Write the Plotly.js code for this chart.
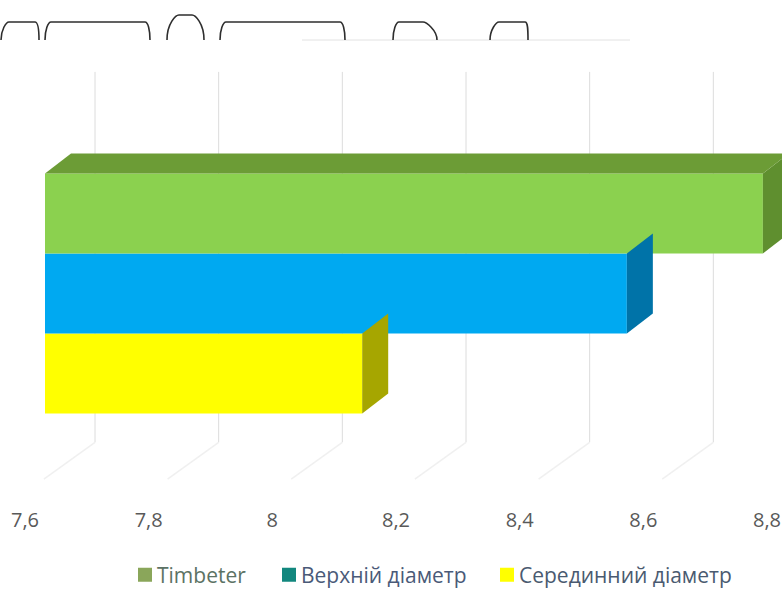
<!DOCTYPE html>
<html>
<head>
<meta charset="utf-8">
<script src="https://cdn.plot.ly/plotly-3.0.1.min.js"></script>
<style>html,body{margin:0;padding:0;background:#fff}#chart{width:782px;height:590px}</style>
</head>
<body>
<div id="chart"></div>
<script>
// Diameter comparison, drawn as a bar chart with an oblique 3D look
const seriesNames = ['Серединний діаметр', 'Верхній діаметр', 'Timbeter'];
const seriesValues = [8.113, 8.541, 8.761];
const frontColors = ['#ffff00', '#00a9f1', '#8bd14f'];
const sideColors = ['#a6a600', '#0073a8', '#5f8f2f'];
const topColor = '#6c9c36';
const legendNames = ['Timbeter', 'Верхній діаметр', 'Серединний діаметр'];
const legendColors = ['#8aa65a', '#12877e', '#ffff00'];
const legendTextColors = ['#5c7264', '#4a5a78', '#4a5a70'];
const legendLeft = [117, 261, 479];
const tickValues = [7.6, 7.8, 8, 8.2, 8.4, 8.6, 8.8];
const tickLabels = ['7,6', '7,8', '8', '8,2', '8,4', '8,6', '8,8'];

// Oblique projection, expressed in axis units
const AXIS_MIN = 7.6;
const PX_PER_X = 618.33, PX_PER_Y = 80;
const barShift = 20 / PX_PER_X;
const barDepthX = 26 / PX_PER_X, barDepthY = 20 / PX_PER_Y;
const wallShift = 70 / PX_PER_X;
const wallTop = 3.77, wallBottom = -0.86, floorFront = -1.32;

const W = 782, H = 590, PLOT_BOTTOM = 505, BASELINE_PX = 373.5;
const xRange = [AXIS_MIN - 25 / PX_PER_X, AXIS_MIN + (W - 25) / PX_PER_X];
const yRange = [(BASELINE_PX - PLOT_BOTTOM) / PX_PER_Y, BASELINE_PX / PX_PER_Y];

const traces = [];

// Front faces
seriesValues.forEach((v, i) => {
  traces.push({
    type: 'bar', orientation: 'h', name: seriesNames[i],
    y: [i], x: [v - AXIS_MIN], base: [AXIS_MIN + barShift], width: 1,
    marker: {color: frontColors[i], line: {width: 0}},
    showlegend: false, hoverinfo: 'skip'
  });
});

// Side faces, built from the same values
seriesValues.forEach((v, i) => {
  const e = v + barShift;
  traces.push({
    type: 'scatter', mode: 'lines', fill: 'toself', fillcolor: sideColors[i],
    line: {width: 0}, showlegend: false, hoverinfo: 'skip',
    x: [e, e + barDepthX, e + barDepthX, e, e],
    y: [i + 0.5, i + 0.5 + barDepthY, i - 0.5 + barDepthY, i - 0.5, i + 0.5]
  });
});

// Top face of the longest bar
const topIndex = seriesValues.length - 1;
const topEnd = seriesValues[topIndex] + barShift;
const topStart = AXIS_MIN + barShift;
traces.push({
  type: 'scatter', mode: 'lines', fill: 'toself', fillcolor: topColor,
  line: {width: 0}, showlegend: false, hoverinfo: 'skip',
  x: [topStart, topStart + barDepthX, topEnd + barDepthX, topEnd, topStart],
  y: [topIndex + 0.5, topIndex + 0.5 + barDepthY, topIndex + 0.5 + barDepthY, topIndex + 0.5, topIndex + 0.5]
});

// Each legend entry gets its own legend box so the spacing can be set per entry
const legendId = i => (i === 0 ? 'legend' : 'legend' + (i + 1));
legendNames.forEach((n, i) => {
  traces.push({
    type: 'scatter', mode: 'markers', name: n, x: [null], y: [null],
    legend: legendId(i),
    marker: {symbol: 'square', size: 14, color: legendColors[i]},
    hoverinfo: 'skip'
  });
});

// Back-wall gridlines and their floor lines sit behind the bars
const shapes = [];
tickValues.forEach(t => {
  shapes.push({type: 'line', layer: 'below', xref: 'x', yref: 'y',
    x0: t + wallShift, x1: t + wallShift, y0: wallTop, y1: wallBottom,
    line: {color: '#dcdcdc', width: 1}});
  shapes.push({type: 'line', layer: 'below', xref: 'x', yref: 'y',
    x0: t + wallShift, x1: t + wallShift * 0.27, y0: wallBottom, y1: floorFront,
    line: {color: '#f0f0f0', width: 1.5}});
});
const px = v => v / W;
const py = v => 1 - v / PLOT_BOTTOM;
shapes.push({type: 'line', layer: 'below', xref: 'paper', yref: 'paper',
  x0: px(302), x1: px(630), y0: py(40), y1: py(40),
  line: {color: '#e2e2e2', width: 1}});

// Rounded brackets along the top edge, in pixels
const bracketLeft = [1, 45, 167, 220, 393, 490];
const bracketRight = [39, 150, 204, 345, 437, 528];
const bracketTop = [22, 22, 15, 22, 22, 22];
const bracketInsetL = [8, 6, 12, 6, 6, 9];
const bracketInsetR = [4, 5, 12, 5, 14, 3];
const bracketFoot = 40;
bracketLeft.forEach((l, i) => {
  const r = bracketRight[i], t = bracketTop[i];
  const a = l + bracketInsetL[i], b = r - bracketInsetR[i];
  const path = `M ${px(l)} ${py(bracketFoot)} ` +
    `C ${px(l)} ${py(t + 8)} ${px(a - 3)} ${py(t)} ${px(a)} ${py(t)} ` +
    `L ${px(b)} ${py(t)} ` +
    `C ${px(b + 3)} ${py(t)} ${px(r)} ${py(t + 8)} ${px(r)} ${py(bracketFoot)}`;
  shapes.push({type: 'path', xref: 'paper', yref: 'paper', path: path,
    line: {color: '#2e2e2e', width: 1.6}});
});

const layout = {
  width: W, height: H,
  margin: {l: 0, r: 0, t: 0, b: H - PLOT_BOTTOM, pad: 0, autoexpand: false},
  paper_bgcolor: '#fff', plot_bgcolor: '#fff',
  barmode: 'overlay',
  font: {family: '"Open Sans", sans-serif'},
  xaxis: {
    range: xRange, tickmode: 'array', tickvals: tickValues, ticktext: tickLabels,
    showgrid: false, zeroline: false, showline: false, ticks: '',
    ticklabelstandoff: 1, automargin: false,
    tickfont: {size: 20, color: '#595959'}
  },
  yaxis: {range: yRange, visible: false, fixedrange: true},
  shapes: shapes,
  showlegend: true
};
legendNames.forEach((n, i) => {
  layout[legendId(i)] = {
    orientation: 'h', x: legendLeft[i] / W, xanchor: 'left', y: -0.098, yanchor: 'top',
    font: {size: 21, color: legendTextColors[i]},
    bgcolor: 'rgba(0,0,0,0)', itemclick: false, itemdoubleclick: false
  };
});

// Bring the legend swatches closer to their labels
const SWATCH_NUDGE = 8;
Plotly.newPlot('chart', traces, layout, {displayModeBar: false, staticPlot: true}).then(gd => {
  gd.querySelectorAll('.legendsymbols').forEach(s => s.setAttribute('transform', `translate(${SWATCH_NUDGE},0)`));
});
</script>
</body>
</html>
